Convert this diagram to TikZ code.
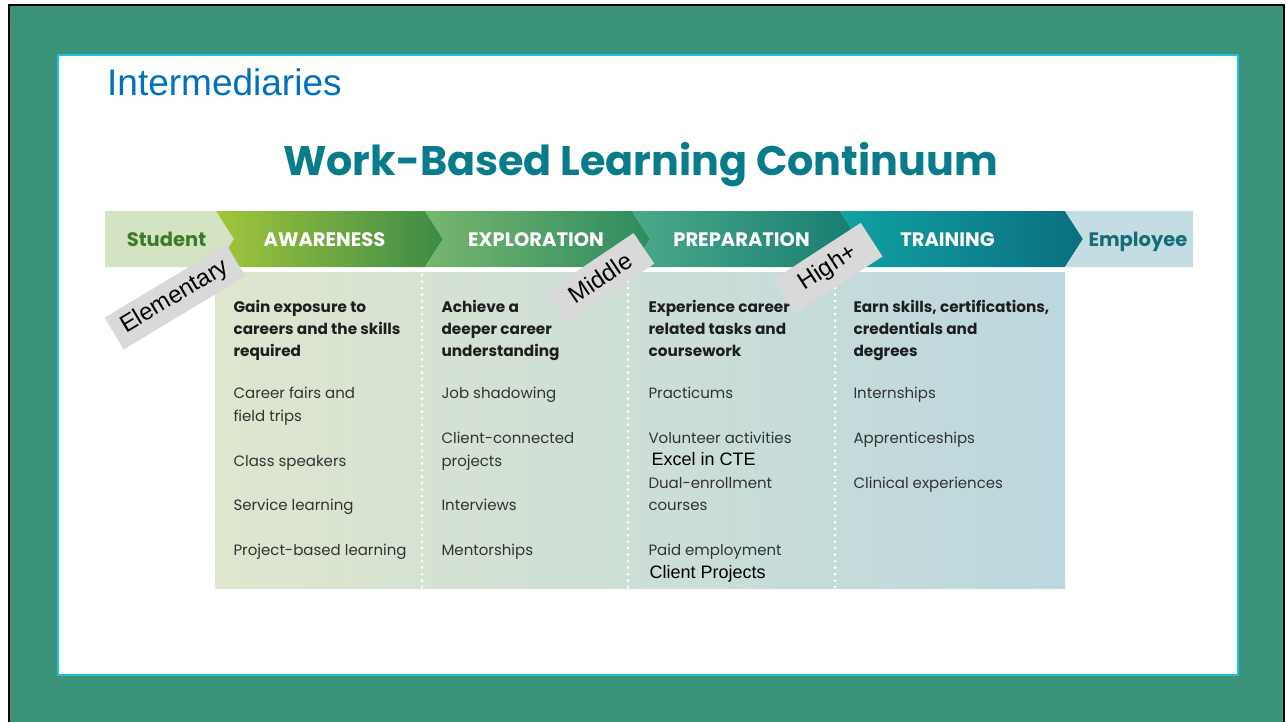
\documentclass[tikz,border=0pt]{standalone}
\usepackage{fontspec}
\setmainfont{Poppins}
\newfontfamily\arial{Liberation Sans}
\definecolor{slidegreen}{HTML}{3B937A}
\definecolor{cyanb}{HTML}{1EC0DC}
\definecolor{ttlblue}{HTML}{0070C0}
\definecolor{ttlteal}{HTML}{087C8A}
\definecolor{studfill}{HTML}{D4E3C1}
\definecolor{studtext}{HTML}{3D7B2C}
\definecolor{empfill}{HTML}{C4DDE2}
\definecolor{emptext}{HTML}{166C79}
\definecolor{labelgray}{HTML}{D9D9D9}
\definecolor{headtxt}{HTML}{1E1E1E}
\definecolor{itemtxt}{HTML}{333333}
\definecolor{awA}{HTML}{A3C53B}
\definecolor{awB}{HTML}{3B8B47}
\definecolor{exA}{HTML}{78B66F}
\definecolor{exB}{HTML}{2D8B60}
\definecolor{prA}{HTML}{4CA98A}
\definecolor{prB}{HTML}{177D72}
\definecolor{trA}{HTML}{10A2A3}
\definecolor{trB}{HTML}{0B6F7E}
\definecolor{panA}{HTML}{DEE6CE}
\definecolor{panB}{HTML}{BCD7DF}
\begin{document}
\begin{tikzpicture}[x=1pt,y=-1pt,
  lbl/.style={fill=labelgray, font=\arial\fontsize{24}{24}\selectfont, inner sep=0pt, minimum height=37pt, text=black},
  head/.style={anchor=base west, font=\bfseries\fontsize{15.3}{15.3}\selectfont, text=headtxt},
  item/.style={anchor=base west, font=\fontsize{15}{15}\selectfont, text=itemtxt},
  addtxt/.style={anchor=base west, font=\arial\fontsize{18}{18}\selectfont, text=black},
  bandtxt/.style={anchor=base, font=\bfseries\fontsize{19.5}{19.5}\selectfont, text=white},
  sepline/.style={white, line width=3pt, line cap=round, dash pattern=on 0pt off 6.5pt}]

\useasboundingbox (0,0) rectangle (1286,721);
\fill[white] (0,0) rectangle (1286,721);
\fill[slidegreen] (9,5) rectangle (1284,730);
\draw[black, line width=2pt] (9,730) -- (9,5) -- (1284,5) -- (1284,730);
\fill[white] (58,55) rectangle (1238,675);
\draw[cyanb, line width=2.4pt] (58,55) rectangle (1238,675);

\node[anchor=base west, inner sep=0pt, font=\arial\fontsize{37}{37}\selectfont, text=ttlblue] (inter) at (107,95) {Intermediaries};
\node[anchor=base, inner sep=0pt, font=\bfseries\fontsize{41.3}{41.3}\selectfont, text=ttlteal] (title) at (640.5,175) {Work-Based Learning Continuum};

% band
\fill[studfill] (105,211) -- (216,211) -- (234,239) -- (216,267) -- (105,267) -- cycle;
\shade[left color=awA, right color=awB] (216,211) -- (425,211) -- (443,239) -- (425,267) -- (216,267) -- (234,239) -- cycle;
\shade[left color=exA, right color=exB] (425,211) -- (632,211) -- (650,239) -- (632,267) -- (425,267) -- (443,239) -- cycle;
\shade[left color=prA, right color=prB] (632,211) -- (840,211) -- (858,239) -- (840,267) -- (632,267) -- (650,239) -- cycle;
\shade[left color=trA, right color=trB] (840,211) -- (1065,211) -- (1083,239) -- (1065,267) -- (840,267) -- (858,239) -- cycle;
\fill[empfill] (1065,211) -- (1193,211) -- (1193,267) -- (1065,267) -- (1083,239) -- cycle;

\node[bandtxt, text=studtext] (stud) at (166.5,246) {Student};
\node[bandtxt] (aw) at (324.5,246) {AWARENESS};
\node[bandtxt] (ex) at (536,246) {EXPLORATION};
\node[bandtxt] (pr) at (741.5,246) {PREPARATION};
\node[bandtxt] (tr) at (947.5,246) {TRAINING};
\node[bandtxt, text=emptext] (emp) at (1138,246) {Employee};

% panel
\shade[left color=panA, right color=panB] (215,272) rectangle (1065,588);
\draw[sepline] (422,275) -- (422,588);
\draw[sepline] (628,275) -- (628,588);
\draw[sepline] (835,275) -- (835,588);

% column 1
\node[head] (h1a) at (230,312) {Gain exposure to};
\node[head] (h1b) at (230,334) {careers and the skills};
\node[head] (h1c) at (230,356) {required};
\node[item] (c1a) at (230,398) {Career fairs and};
\node[item] (c1b) at (230,421) {field trips};
\node[item] (c1c) at (230,466) {Class speakers};
\node[item] (c1d) at (230,510) {Service learning};
\node[item] (c1e) at (230,555) {Project-based learning};

% column 2
\node[head] (h2a) at (438,312) {Achieve a};
\node[head] (h2b) at (438,334) {deeper career};
\node[head] (h2c) at (438,356) {understanding};
\node[item] (c2a) at (438,398) {Job shadowing};
\node[item] (c2b) at (438,443) {Client-connected};
\node[item] (c2c) at (438,466) {projects};
\node[item] (c2d) at (438,510) {Interviews};
\node[item] (c2e) at (438,555) {Mentorships};

% column 3
\node[head] (h3a) at (645,312) {Experience career};
\node[head] (h3b) at (645,334) {related tasks and};
\node[head] (h3c) at (645,356) {coursework};
\node[item] (c3a) at (645,398) {Practicums};
\node[item] (c3b) at (645,443) {Volunteer activities};
\node[addtxt] (c3x) at (648,465) {Excel in CTE};
\node[item] (c3c) at (645,488) {Dual-enrollment};
\node[item] (c3d) at (645,510) {courses};
\node[item] (c3e) at (645,555) {Paid employment};
\node[addtxt] (c3y) at (646,578) {Client Projects};

% column 4
\node[head] (h4a) at (850,312) {Earn skills, certifications,};
\node[head] (h4b) at (850,334) {credentials and};
\node[head] (h4c) at (850,356) {degrees};
\node[item] (c4a) at (850,398) {Internships};
\node[item] (c4b) at (850,443) {Apprenticeships};
\node[item] (c4c) at (850,488) {Clinical experiences};

% level labels
\node[lbl, rotate=31, minimum width=142pt] (elem) at (175,297) {Elementary};
\node[lbl, rotate=34, minimum width=106pt] (mid) at (600,278) {Middle};
\node[lbl, rotate=33, minimum width=104pt, minimum height=40pt] (high) at (828,268) {High+};
\end{tikzpicture}
\end{document}
